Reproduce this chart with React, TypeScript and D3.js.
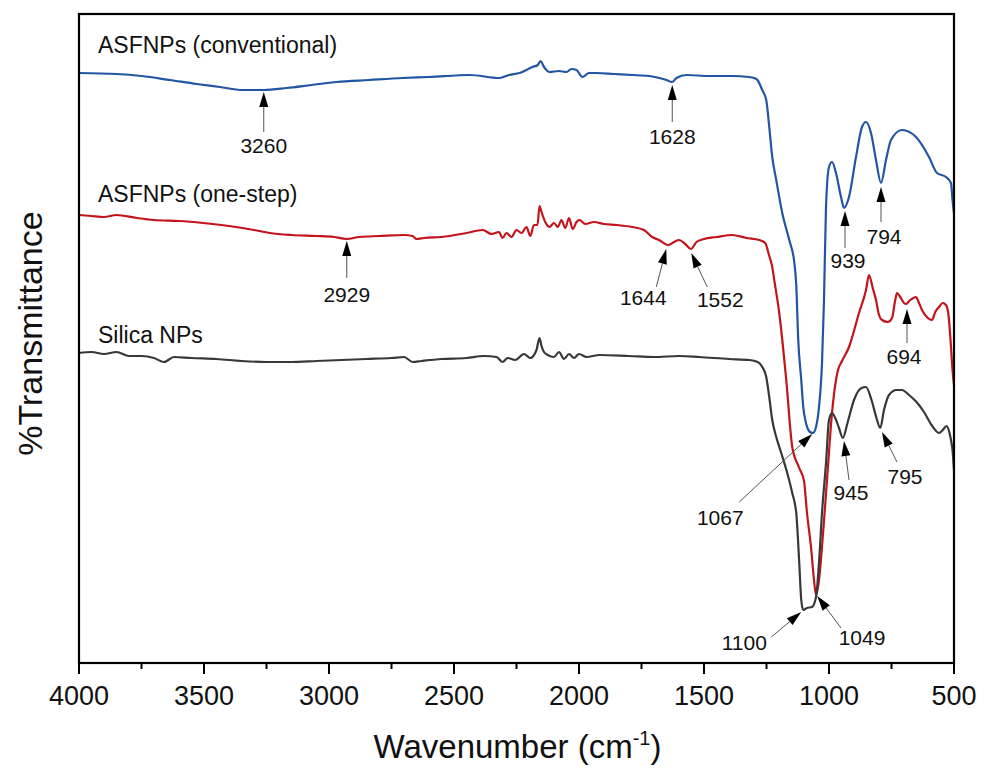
import React from "react";
import * as d3 from "d3";

// ---------- DATA ----------
const wnConv = [4000,3850,3750,3637,3530,3437,3345,3260,3169,3070,2969,2840,2705,2600,2438,2318,2280,2238,2186,2165,2154,2140,2118,2080,2050,2030,2010,1986,1960,1930,1860,1787,1720,1679,1650,1628,1610,1571,1480,1387,1320,1290,1267,1251,1239,1227,1211,1187,1159,1139,1131,1123,1111,1103,1092,1076,1064,1052,1040,1028,1020,1012,1000,988,972,952,940,920,892,868,852,832,812,792,772,752,708,652,600,568,532,512,506,500];
const tConv = [58.9,58.8,58.6,58.2,57.8,57.5,57.2,57.2,57.4,57.7,58.0,58.2,58.4,58.5,58.7,58.4,58.7,58.9,59.5,59.7,60.1,59.5,59.0,59.1,59.0,59.3,59.2,58.5,58.9,58.9,58.8,58.7,58.6,58.4,58.2,58.0,58.4,58.7,58.6,58.6,58.5,58.3,57.2,56.2,53.5,50.5,48.2,44.9,42.2,40.0,37.7,32.2,28.2,25.5,23.9,23.0,22.9,23.5,25.5,29.9,36.2,45.5,49.5,50.0,48.9,46.5,45.4,46.5,50.5,53.5,54.0,52.9,50.2,47.9,50.2,52.2,53.2,52.5,50.5,48.9,48.5,47.9,46.2,44.9];

const wnOne = [4000,3950,3900,3850,3769,3700,3600,3504,3400,3300,3237,3150,3050,2980,2929,2880,2800,2700,2666,2650,2620,2550,2450,2385,2350,2320,2306,2290,2270,2250,2230,2210,2195,2180,2166,2158,2150,2135,2118,2100,2085,2070,2055,2040,2025,2010,1998,1975,1940,1900,1850,1787,1740,1707,1680,1644,1620,1600,1575,1552,1530,1500,1450,1387,1330,1279,1255,1240,1227,1219,1199,1171,1147,1119,1100,1088,1072,1060,1052,1040,1028,1008,988,972,964,950,920,880,852,840,825,812,800,788,765,748,735,728,715,700,692,675,652,640,628,605,588,575,560,545,532,522,512,506,500];
const tOne = [44.7,44.6,44.5,44.7,44.4,44.2,44.1,43.9,43.6,43.2,42.9,42.7,42.6,42.5,42.3,42.5,42.6,42.7,42.6,42.3,42.4,42.5,42.9,43.2,42.8,43.0,42.4,42.9,42.5,43.2,42.9,43.5,42.6,43.7,43.7,45.6,45.0,44.0,43.5,43.9,43.5,44.2,43.4,44.4,43.3,44.0,44.2,43.8,44.0,43.8,43.7,43.5,43.2,42.5,42.2,41.7,42.0,42.2,41.8,41.3,42.0,42.3,42.5,42.7,42.4,42.2,41.9,40.7,39.5,38.2,34.9,28.2,21.5,19.4,18.1,14.9,11.5,8.2,6.7,8.2,11.5,18.2,24.9,28.2,29.2,30.0,31.5,34.9,37.2,38.7,37.4,36.2,34.7,34.2,34.0,34.4,36.2,36.9,36.5,35.9,35.8,36.2,36.5,35.9,35.2,34.4,34.2,35.0,35.5,35.9,35.7,34.7,31.5,29.2,27.7];

const wnSil = [4000,3950,3900,3850,3800,3750,3700,3660,3620,3550,3450,3350,3250,3150,3050,2950,2850,2750,2700,2665,2630,2550,2450,2380,2330,2306,2285,2255,2220,2195,2170,2158,2150,2140,2125,2100,2080,2060,2040,2020,2000,1970,1918,1800,1700,1600,1519,1400,1319,1285,1267,1251,1239,1227,1211,1191,1167,1147,1131,1119,1111,1103,1088,1068,1052,1040,1028,1012,1000,988,975,960,945,925,900,870,852,830,810,795,780,760,730,708,680,650,620,590,560,545,530,520,512,506,500];
const tSil = [30.9,31.0,30.8,31.0,30.6,30.6,30.4,30.0,30.5,30.4,30.3,30.1,30.0,30.0,30.1,30.2,30.3,30.4,30.5,30.0,30.1,30.3,30.4,30.6,30.5,30.0,30.4,30.2,30.8,30.4,31.2,32.4,31.6,31.0,30.7,30.5,31.0,30.3,30.8,30.4,30.8,30.5,30.7,30.6,30.5,30.6,30.5,30.3,30.2,30.0,29.5,28.5,26.5,24.2,22.5,20.9,18.9,16.9,14.9,9.9,6.2,5.2,5.4,5.5,6.5,9.9,14.9,19.9,24.2,24.9,24.4,23.4,22.4,24.0,26.2,27.4,27.5,26.2,24.4,23.4,25.2,26.7,27.2,27.2,26.7,26.0,25.0,23.7,22.9,23.2,23.6,23.1,22.2,21.2,19.2];

const seriesNames = ["ASFNPs (conventional)", "ASFNPs (one-step)", "Silica NPs"];
const seriesColors = ["#2255a3", "#c3141c", "#383838"];
const seriesLabelWn = 3924;
const seriesLabelT = [60.9, 46.0, 31.9];

const xTicks = [4000, 3500, 3000, 2500, 2000, 1500, 1000, 500];
const xMinorTicks = [3750, 3250, 2750, 2250, 1750, 1250, 750];

// peak annotations: label, arrow tip, arrow tail, label anchor (wavenumber, transmittance)
const peakLabels = ["3260","1628","2929","1644","1552","939","794","694","1067","945","795","1100","1049"];
const tipWn = [3261,1627,2929,1651,1551,936,792,688,1067,940,788,1111,1047];
const tipT = [57.0,57.7,42.1,41.3,40.9,45.1,47.5,35.3,22.8,22.1,23.0,5.0,6.6];
const tailWn = [3261,1627,2929,1691,1487,936,792,688,1359,920,728,1231,952];
const tailT = [53.0,54.0,38.4,37.5,37.5,41.4,44.0,31.9,16.0,18.2,20.0,2.5,3.4];
const labelWn = [3261,1627,2929,1743,1435,924,780,700,1435,912,696,1339,868];
const labelT = [50.9,51.8,36.0,35.7,35.5,39.4,41.8,29.8,13.7,16.2,17.8,1.2,1.7];

// ---------- LAYOUT ----------
const W = 982, H = 769;
const left = 79, right = 954, top = 14, bottom = 663;
const font = "'Liberation Sans', Arial, Helvetica, sans-serif";

export default function App() {
  const x = d3.scaleLinear().domain([4000, 500]).range([left, right]);
  const y = d3.scaleLinear().domain([0, 64.9]).range([662, 13]);

  const line = d3
    .line<[number, number]>()
    .x((d) => x(d[0]))
    .y((d) => y(d[1]))
    .curve(d3.curveMonotoneX);

  const series = [
    { wn: wnConv, t: tConv },
    { wn: wnOne, t: tOne },
    { wn: wnSil, t: tSil },
  ];

  const arrows = peakLabels.map((lab, i) => {
    const tx = x(tipWn[i]), ty = y(tipT[i]);
    const sx = x(tailWn[i]), sy = y(tailT[i]);
    const dx = tx - sx, dy = ty - sy;
    const len = Math.sqrt(dx * dx + dy * dy);
    const ux = dx / len, uy = dy / len;
    const hl = 15, hw = 4.5;
    const bx = tx - ux * hl, by = ty - uy * hl;
    const px = -uy, py = ux;
    const head = `M${tx},${ty}L${bx + px * hw},${by + py * hw}L${bx - px * hw},${by - py * hw}Z`;
    return { lab, sx, sy, bx, by, head, lx: x(labelWn[i]), ly: y(labelT[i]) };
  });

  return (
    <svg
      width={W}
      height={H}
      style={{ position: "absolute", left: 0, top: 0, background: "#fff" }}
      fontFamily={font}
    >
      <rect x={0} y={0} width={W} height={H} fill="#fff" />
      {/* spectra */}
      {series.map((s, k) => (
        <path
          key={k}
          d={line(s.wn.map((w, i) => [w, s.t[i]] as [number, number])) || ""}
          fill="none"
          stroke={seriesColors[k]}
          strokeWidth={2.2}
          strokeLinejoin="round"
        />
      ))}
      {/* frame */}
      <rect x={left} y={top} width={right - left} height={bottom - top} fill="none" stroke="#000" strokeWidth={2.2} />
      {/* ticks */}
      {xTicks.map((t) => (
        <g key={t}>
          <line x1={x(t)} x2={x(t)} y1={bottom} y2={bottom + 11} stroke="#000" strokeWidth={2} />
          <text x={x(t)} y={705} textAnchor="middle" fontSize={27} fill="#111">
            {t}
          </text>
        </g>
      ))}
      {xMinorTicks.map((t) => (
        <line key={t} x1={x(t)} x2={x(t)} y1={bottom} y2={bottom + 6} stroke="#000" strokeWidth={2} />
      ))}
      {/* axis titles */}
      <text x={(left + right) / 2 + 1} y={758} textAnchor="middle" fontSize={33} fill="#111">
        Wavenumber (cm<tspan dy={-13} fontSize={20}>-1</tspan>
        <tspan dy={13}>)</tspan>
      </text>
      <text
        transform={`translate(42,${(210 + 457) / 2}) rotate(-90)`}
        textAnchor="middle"
        fontSize={34}
        fill="#111"
      >
        %Transmittance
      </text>
      {/* series labels */}
      {seriesNames.map((n, k) => (
        <text key={n} x={x(seriesLabelWn)} y={y(seriesLabelT[k])} fontSize={23} fill="#111">
          {n}
        </text>
      ))}
      {/* peak annotations */}
      {arrows.map((a, i) => (
        <g key={i}>
          <line x1={a.sx} y1={a.sy} x2={a.bx} y2={a.by} stroke="#555" strokeWidth={1} />
          <path d={a.head} fill="#000" />
          <text x={a.lx} y={a.ly} textAnchor="middle" fontSize={21} fill="#111">
            {a.lab}
          </text>
        </g>
      ))}
    </svg>
  );
}
